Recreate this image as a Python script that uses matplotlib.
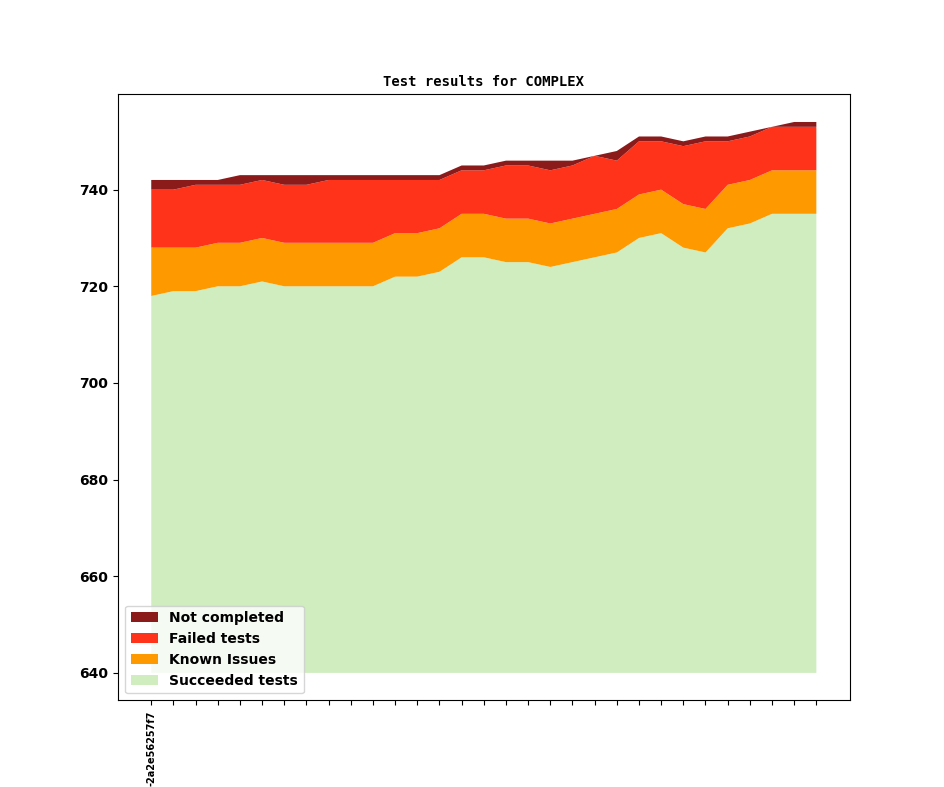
import numpy as np
import matplotlib
matplotlib.use("Agg")
import matplotlib.pyplot as plt

# Valores (acumulados)
succeeded_top = [718, 719, 719, 720, 720, 721, 720, 720, 720, 720, 720, 722, 722, 723, 726, 726,
                 725, 725, 724, 725, 726, 727, 730, 731, 728, 727, 732, 733, 735, 735, 735]
known_top = [728, 728, 728, 729, 729, 730, 729, 729, 729, 729, 729, 731, 731, 732, 735, 735,
             734, 734, 733, 734, 735, 736, 739, 740, 737, 736, 741, 742, 744, 744, 744]
failed_top = [740, 740, 741, 741, 741, 742, 741, 741, 742, 742, 742, 742, 742, 742, 744, 744,
              745, 745, 744, 745, 747, 746, 750, 750, 749, 750, 750, 751, 753, 753, 753]
total_top = [742, 742, 742, 742, 743, 743, 743, 743, 743, 743, 743, 743, 743, 743, 745, 745,
             746, 746, 746, 746, 747, 748, 751, 751, 750, 751, 751, 752, 753, 754, 754]
base = 640
tick_labels = ["-2a2e56257f7"] + [""] * 30

x = np.arange(len(succeeded_top))
succ = np.array(succeeded_top) - base
known = np.array(known_top) - np.array(succeeded_top)
failed = np.array(failed_top) - np.array(known_top)
notc = np.array(total_top) - np.array(failed_top)

fig, ax = plt.subplots(figsize=(9.44, 7.87), dpi=100)
ax.stackplot(x, succ, known, failed, notc, baseline="zero",
             colors=["#cfedbf", "#ff9900", "#ff331a", "#8b1a1a"],
             labels=["Succeeded tests", "Known Issues", "Failed tests", "Not completed"])
# desplazar al valor base
for coll in ax.collections:
    for p in coll.get_paths():
        p.vertices[:, 1] += base
ax.relim()
ax.autoscale_view()
ax.set_ylim(634.3, 759.7)

ax.set_title("Test results for COMPLEX", fontsize=10, fontweight="bold", family="DejaVu Sans Mono")
ax.set_xticks(x)
ax.set_xticklabels(tick_labels, rotation=90, fontsize=7, fontweight="bold")
for lbl in ax.get_yticklabels():
    lbl.set_fontweight("bold")

handles, labels = ax.get_legend_handles_labels()
ax.legend(handles[::-1], labels[::-1], loc="lower left", prop={"weight": "bold", "size": 10})

plt.savefig("out.png", dpi=100)
